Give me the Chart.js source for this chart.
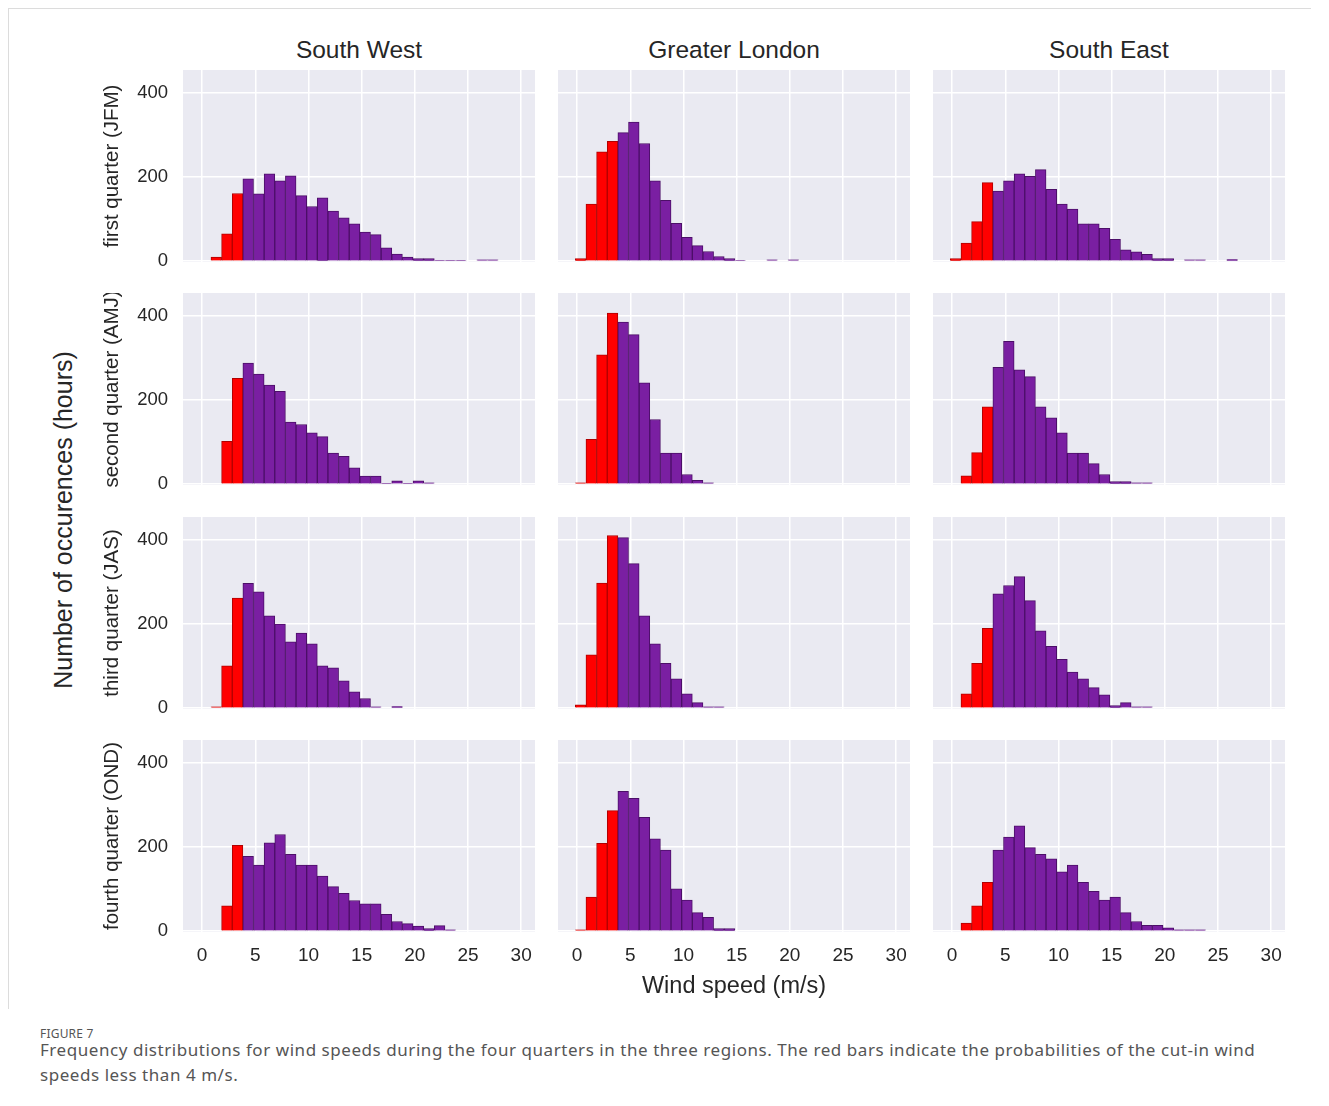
<!DOCTYPE html>
<html>
<head>
<meta charset="utf-8">
<script src="https://cdn.jsdelivr.net/npm/chart.js@4.4.1/dist/chart.umd.min.js"></script>
<style>
  body { margin:0; background:#fff; width:1329px; height:1106px; position:relative; overflow:hidden; font-family:"Liberation Sans", Arial, sans-serif; }
  canvas { position:absolute; }
  .t { position:absolute; color:#262626; white-space:nowrap; }
</style>
</head>
<body>
<div style="position:absolute;left:8px;top:8px;width:1302px;height:1000px;border-top:1px solid #dcdcdc;border-left:1px solid #dcdcdc;"></div>
<div id="root"></div>
<div class="t" id="ylab" style="left:63px;top:520px;font-size:25px;transform:translate(-50%,-50%) rotate(-90deg);">Number of occurences (hours)</div>
<div class="t" style="left:40px;top:1025px;font-family:'Noto Sans',sans-serif;font-size:12px;color:#555;letter-spacing:0.2px;">FIGURE 7</div>
<div class="t" style="left:40px;top:1037px;font-family:'Noto Sans',sans-serif;font-size:17px;line-height:25px;color:#555;letter-spacing:0.55px;">Frequency distributions for wind speeds during the four quarters in the three regions. The red bars indicate the probabilities of the cut-in wind<br>speeds less than 4 m/s.</div>
<script>
// ---- data ----
const binCenters = [0.33,1.33,2.33,3.33,4.33,5.33,6.33,7.33,8.33,9.33,10.33,11.33,12.33,13.33,14.33,15.33,16.33,17.33,18.33,19.33,20.33,21.33,22.33,23.33,24.33,25.33,26.33,27.33,28.33,29.33];
const xTicks = [0,5,10,15,20,25,30];
const yTicks = [0,200,400];
const regions = ["South West","Greater London","South East"];
const quarters = ["first quarter (JFM)","second quarter (AMJ)","third quarter (JAS)","fourth quarter (OND)"];
const cutIn = 4;

const southWestQ1     = [0,10,65,161,196,160,208,191,203,156,130,151,119,103,89,69,63,32,17,10,6,6,2,2,2,0,3,3,0,0];
const greaterLondonQ1 = [6,136,260,285,306,331,280,191,145,90,57,37,23,11,6,2,0,0,3,0,3,0,0,0,0,0,0,0,0,0];
const southEastQ1     = [6,43,94,187,167,191,208,202,218,171,136,124,89,89,78,52,27,22,16,6,6,0,3,3,0,0,4,0,0,0];

const southWestQ2     = [0,0,102,252,288,262,236,221,148,142,122,113,74,66,39,19,19,2,8,2,8,3,0,0,0,0,0,0,0,0];
const greaterLondonQ2 = [3,107,308,407,386,356,241,154,74,74,23,9,3,0,0,0,0,0,0,0,0,0,0,0,0,0,0,0,0,0];
const southEastQ2     = [0,20,75,184,278,340,272,256,184,158,122,74,74,49,23,6,6,3,3,0,0,0,0,0,0,0,0,0,0,0];

const southWestQ3     = [0,3,101,262,297,277,220,200,158,179,153,101,96,65,39,23,3,0,4,0,0,0,0,0,0,0,0,0,0,0];
const greaterLondonQ3 = [8,127,298,411,406,344,220,153,107,70,34,13,3,3,0,0,0,0,0,0,0,0,0,0,0,0,0,0,0,0];
const southEastQ3     = [0,34,107,190,272,292,313,256,184,147,116,86,70,49,32,6,13,3,3,0,0,0,0,0,0,0,0,0,0,0];

const southWestQ4     = [0,0,60,204,178,157,210,230,183,157,157,131,106,90,73,65,65,40,23,18,12,6,13,3,0,0,0,0,0,0];
const greaterLondonQ4 = [3,81,209,287,333,316,271,220,193,101,74,44,33,6,6,0,0,0,0,0,0,0,0,0,0,0,0,0,0,0];
const southEastQ4     = [0,19,60,116,193,224,251,199,183,172,141,157,116,95,74,81,44,23,14,14,8,3,3,3,0,0,0,0,0,0];

const panelData = [
  [southWestQ1, greaterLondonQ1, southEastQ1],
  [southWestQ2, greaterLondonQ2, southEastQ2],
  [southWestQ3, greaterLondonQ3, southEastQ3],
  [southWestQ4, greaterLondonQ4, southEastQ4]
];

// ---- layout / style ----
const FONT = '"Liberation Sans", Arial, sans-serif';
const colLeft = [183, 558, 933];
const rowTop = [70, 293, 517, 740];
const panelW = 352, panelH = 192, leftW = 88, bottomH = 69, spareH = 14;
const RED = '#ff0000', PURPLE = '#7a1fa2';
const TXT = '#262626';

const bgPlugin = {
  id: 'bg',
  beforeDraw(chart) {
    const a = chart.chartArea, ctx = chart.ctx;
    ctx.save();
    ctx.fillStyle = '#eaeaf2';
    ctx.fillRect(a.left, a.top, a.right - a.left, a.bottom - a.top);
    ctx.restore();
  }
};

const root = document.getElementById('root');
regions.forEach((name, c) => {
  const d = document.createElement('div');
  d.className = 't';
  d.textContent = name;
  d.style.fontSize = '24.5px';
  d.style.left = (colLeft[c] + panelW / 2) + 'px';
  d.style.top = '50px';
  d.style.transform = 'translate(-50%,-50%)';
  root.appendChild(d);
});

for (let r = 0; r < 4; r++) {
  for (let c = 0; c < 3; c++) {
    const lw = c === 0 ? leftW : 0;
    const bh = r === 3 ? bottomH : spareH;
    const cv = document.createElement('canvas');
    cv.width = panelW + lw;
    cv.height = panelH + bh;
    cv.style.left = (colLeft[c] - lw) + 'px';
    cv.style.top = rowTop[r] + 'px';
    root.appendChild(cv);
    const vals = panelData[r][c];
    const pts = binCenters.map((x, i) => ({ x: x, y: vals[i] }));
    new Chart(cv, {
      type: 'bar',
      data: {
        datasets: [{
          data: pts,
          backgroundColor: ctx => (ctx.raw && ctx.raw.x < cutIn) ? RED : PURPLE,
          borderColor: ctx => (ctx.raw && ctx.raw.x < cutIn) ? '#b00000' : '#4c0f68',
          borderWidth: 1,
          borderSkipped: 'start',
          barPercentage: 1,
          categoryPercentage: 1
        }]
      },
      options: {
        responsive: false,
        animation: false,
        devicePixelRatio: 1,
        layout: { padding: 0 },
        plugins: { legend: { display: false }, tooltip: { enabled: false }, title: { display: false } },
        scales: {
          x: {
            type: 'linear', min: -1.8, max: 31.3, offset: false,
            grid: { color: '#ffffff', lineWidth: 1.5, drawTicks: false, offset: false },
            border: { display: false },
            ticks: { display: r === 3, font: { size: 19, family: FONT }, color: TXT, padding: 12, autoSkip: false, maxRotation: 0, callback: v => String(v) },
            title: { display: r === 3 && c === 1, text: 'Wind speed (m/s)', font: { size: 23.5, family: FONT }, color: TXT, padding: 0 },
            afterBuildTicks: s => { s.ticks = xTicks.map(v => ({ value: v })); },
            afterFit: s => { s.height = bh; s.paddingLeft = 0; s.paddingRight = 0; s.paddingTop = 0; s.paddingBottom = 0; }
          },
          y: {
            type: 'linear', min: -2, max: 455,
            grid: { color: '#ffffff', lineWidth: 1.5, drawTicks: false },
            border: { display: false },
            ticks: { display: c === 0, font: { size: 18.5, family: FONT }, color: TXT, padding: 15, callback: v => String(v) },
            title: { display: c === 0, text: quarters[r], font: { size: 20.5, family: FONT }, color: TXT, padding: { top: 5.5, bottom: 0 } },
            afterBuildTicks: s => { s.ticks = yTicks.map(v => ({ value: v })); },
            afterFit: s => { s.width = lw; s.paddingLeft = 0; s.paddingRight = 0; s.paddingTop = 0; s.paddingBottom = 0; }
          }
        }
      },
      plugins: [bgPlugin]
    });
  }
}
</script>
</body>
</html>
